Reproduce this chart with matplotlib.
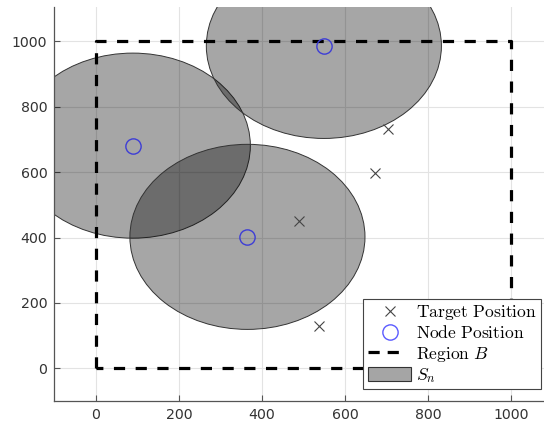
import matplotlib
matplotlib.use("Agg")
import matplotlib.pyplot as plt
from matplotlib.patches import Circle, Patch
from matplotlib.lines import Line2D
from matplotlib.legend_handler import HandlerLine2D

plt.rcParams['mathtext.fontset'] = 'cm'
plt.rcParams['font.family'] = ['DejaVu Sans']

# Sensor nodes and their sensing radius
node_x = [89, 549, 365]
node_y = [681, 986, 402]
sensing_radius = 283

# Targets inside the surveillance region
target_x = [703, 673, 490, 538]
target_y = [732, 597, 450, 130]

# Region B corners (square, traversed from the origin)
region_x = [0, 0, 1000, 1000, 0]
region_y = [0, 1000, 1000, 0, 0]

x_ticks = [0, 200, 400, 600, 800, 1000]
y_ticks = [0, 200, 400, 600, 800, 1000]


class ShortLineHandler(HandlerLine2D):
    """Draws the legend line a bit shorter than the handle box."""

    def create_artists(self, legend, orig_handle, xdescent, ydescent,
                       width, height, fontsize, trans):
        return super().create_artists(legend, orig_handle, xdescent, ydescent,
                                      width * 0.8, height, fontsize, trans)


W, H = 544, 426
fig = plt.figure(figsize=(W / 100, H / 100), dpi=100)
ax = fig.add_axes([54.3 / W, 1 - 401 / H, 1 - 54.3 / W, (401 - 7) / H])

ax.set_xlim(-100, 1079)
ax.set_ylim(-100, 1105)

ax.grid(True, color='#e3e3e3', lw=0.8, zorder=0)
ax.set_axisbelow(True)

for cx, cy in zip(node_x, node_y):
    ax.add_patch(Circle((cx, cy), sensing_radius, facecolor=(0, 0, 0, 0.35),
                        edgecolor='#333333', lw=0.7, zorder=2))

region_line, = ax.plot(region_x, region_y, color='black', lw=2.3, zorder=3)
region_line.set_dashes([3.5, 3.3])

ax.plot(target_x, target_y, ls='none', marker='x', ms=7.2, mew=0.8,
        color='#444444', zorder=4)
ax.plot(node_x, node_y, ls='none', marker='o', ms=11, mfc='none', mew=1.0,
        mec='#3d3dd6', zorder=4)

ax.set_xticks(x_ticks)
ax.set_yticks(y_ticks)
ax.tick_params(direction='in', length=4, width=0.8, color='#555555',
               labelsize=10.2, labelcolor='#333333', pad=5)
for side in ('top', 'right'):
    ax.spines[side].set_visible(False)
for side in ('left', 'bottom'):
    ax.spines[side].set_color('#555555')
    ax.spines[side].set_linewidth(0.9)

region_handle = Line2D([], [], color='black', lw=2.3, dashes=[3.5, 2.5])
handles = [
    Line2D([], [], ls='none', marker='x', ms=7.2, mew=0.8, color='#444444'),
    Line2D([], [], ls='none', marker='o', ms=11, mfc='none', mew=1.0, mec='#5a5aff'),
    region_handle,
    Patch(facecolor='#a5a5a5', edgecolor='#333333', lw=0.8),
]
labels = [r'$\mathrm{Target\ Position}$', r'$\mathrm{Node\ Position}$',
          r'$\mathrm{Region}\ B$', r'$S_n$']
leg = fig.legend(handles, labels, loc='lower right',
                 bbox_to_anchor=(541 / W, 1 - 389 / H), bbox_transform=fig.transFigure,
                 borderaxespad=0, fontsize=12.6, fancybox=False, framealpha=1,
                 edgecolor='#444444', handlelength=2.5, handleheight=0.85,
                 handletextpad=0.25, labelspacing=0.12, borderpad=0.25,
                 handler_map={region_handle: ShortLineHandler()})
leg.get_frame().set_linewidth(0.8)

fig.savefig('out.png', dpi=100)
